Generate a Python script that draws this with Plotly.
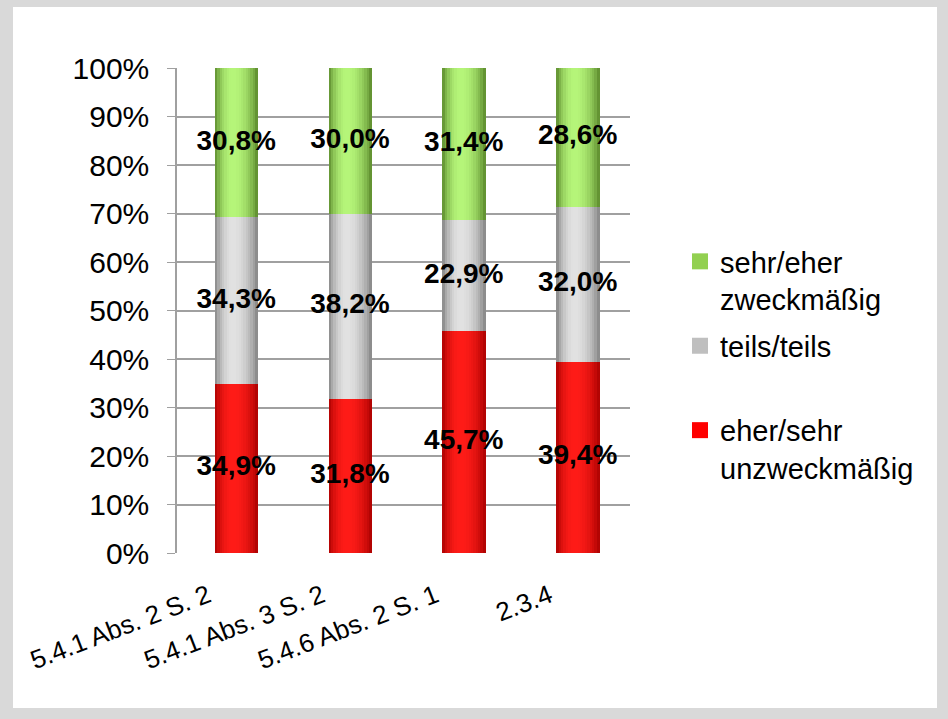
import math
import plotly.graph_objects as go

# Categories and shares (percent) per answer group
categories = ["5.4.1 Abs. 2 S. 2", "5.4.1 Abs. 3 S. 2", "5.4.6 Abs. 2 S. 1", "2.3.4"]
unzweckmaessig = [34.9, 31.8, 45.7, 39.4]   # eher/sehr unzweckmäßig
teils = [34.3, 38.2, 22.9, 32.0]            # teils/teils
zweckmaessig = [30.8, 30.0, 31.4, 28.6]     # sehr/eher zweckmäßig

series_names = ["eher/sehr<br>unzweckmäßig", "teils/teils<br> ", "sehr/eher<br>zweckmäßig"]
y_ticks = [0, 10, 20, 30, 40, 50, 60, 70, 80, 90, 100]

# (dark edge, highlight, flat legend colour) per series
palettes = [
    ((165, 0, 0), (255, 28, 24), "#ff0000"),
    ((125, 125, 125), (226, 226, 226), "#bfbfbf"),
    ((84, 130, 38), (182, 246, 122), "#92d050"),
]

W, H = 948, 719
L, R, T, B = 177, 318, 68, 166
BAR_W = 0.375
N_STRIPS = 18
FONT = "Liberation Sans, Arial, sans-serif"


def shade(dark, light, t):
    # cylinder-like profile: bright band left of centre, darker towards the edges
    c = 0.42
    d = (t - c) / (c if t < c else 1 - c)
    s = max(0.0, math.cos(d * math.pi / 2)) ** 0.7
    r, g, b = (int(dark[i] + (light[i] - dark[i]) * s) for i in range(3))
    return f"rgb({r},{g},{b})"


fig = go.Figure()

series = [unzweckmaessig, teils, zweckmaessig]
bases = [0.0] * len(categories)
label_x, label_y, label_t = [], [], []
for vals, (dark, light, flat), name in zip(series, palettes, series_names):
    for k in range(N_STRIPS):
        t = (k + 0.5) / N_STRIPS
        fig.add_trace(go.Bar(
            x=categories, y=vals, base=bases,
            width=BAR_W / N_STRIPS * 1.3,
            offset=-BAR_W / 2 + k * BAR_W / N_STRIPS,
            marker=dict(color=shade(dark, light, t), line=dict(width=0)),
            showlegend=False, hoverinfo="skip",
        ))
    for i, v in enumerate(vals):
        label_x.append(categories[i])
        label_y.append(bases[i] + v / 2)
        label_t.append(f"{v:.1f}%".replace(".", ","))
    bases = [b + v for b, v in zip(bases, vals)]

# legend entries (flat colour squares), top entry first
for name, (dark, light, flat), grp in reversed(list(zip(series_names, palettes, ["a", "b", "c"]))):
    fig.add_trace(go.Scatter(
        x=[None], y=[None], name=name, legendgroup=grp, mode="markers",
        marker=dict(color=flat, symbol="square", size=16, line=dict(width=0)),
        hoverinfo="skip",
    ))

fig.add_trace(go.Scatter(
    x=label_x, y=label_y, text=label_t, mode="text",
    textfont=dict(family=FONT, size=28, color="black", weight="bold"),
    showlegend=False, hoverinfo="skip",
))

pw = W - L - R
ph = H - T - B
fig.add_shape(
    type="rect", xref="paper", yref="paper", layer="below",
    x0=(13 - L) / pw, x1=(937 - L) / pw,
    y0=(H - B - 708) / ph, y1=(H - B - 7) / ph,
    fillcolor="white", line=dict(width=0),
)

fig.update_layout(
    width=W, height=H,
    margin=dict(l=L, r=R, t=T, b=B),
    paper_bgcolor="#d9d9d9", plot_bgcolor="white",
    barmode="overlay", bargap=0,
    font=dict(family=FONT, color="black"),
    legend=dict(
        x=(680 - L) / pw, y=(H - B - 236) / ph, xanchor="left", yanchor="top",
        font=dict(size=29), valign="top", tracegroupgap=6,
        bgcolor="rgba(0,0,0,0)", itemwidth=30, itemsizing="trace",
    ),
    xaxis=dict(
        range=[-0.52, 3.46], showgrid=False, tickangle=-21,
        tickfont=dict(size=26), showline=False, ticks="",
        ticklabelshift=-28, ticklabelstandoff=22,
    ),
    yaxis=dict(
        range=[0, 100], tickvals=y_ticks,
        ticktext=[f"{v}%" for v in y_ticks],
        tickfont=dict(size=30), gridcolor="#a0a0a0", gridwidth=1.5,
        showline=True, linecolor="#a0a0a0", linewidth=1.5,
        ticks="outside", ticklen=8, tickcolor="#a0a0a0",
        ticklabelstandoff=12, zeroline=False,
    ),
)

fig.write_html("out.html")
